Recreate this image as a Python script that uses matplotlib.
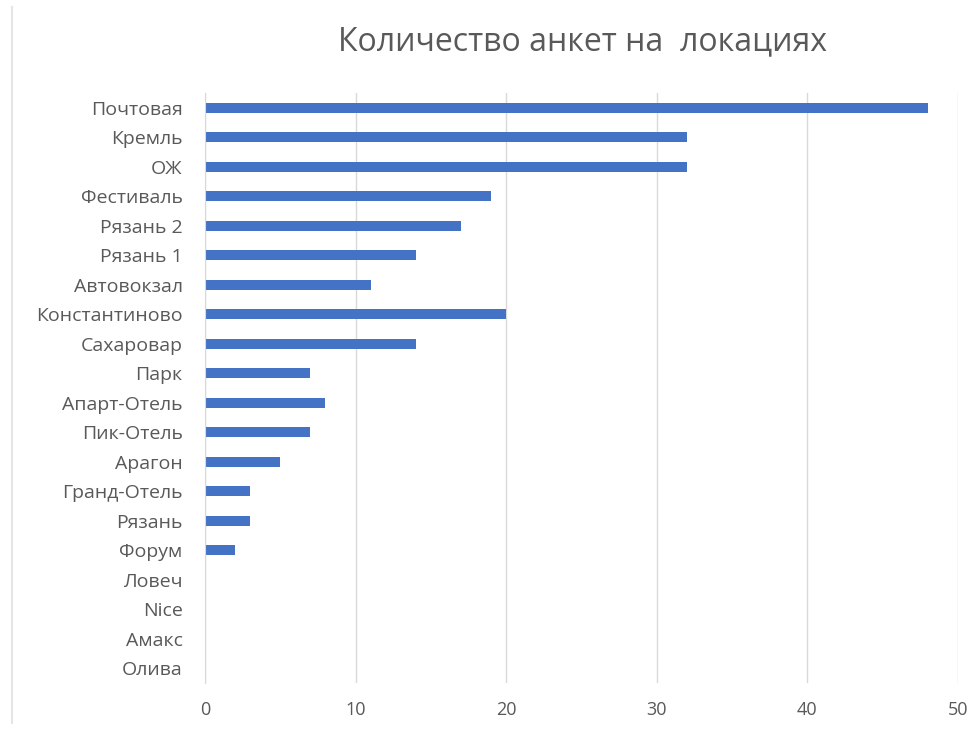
import matplotlib
matplotlib.use('Agg')
import matplotlib.pyplot as plt
from matplotlib.lines import Line2D

locations = ['Почтовая', 'Кремль', 'ОЖ', 'Фестиваль', 'Рязань 2', 'Рязань 1',
             'Автовокзал', 'Константиново', 'Сахаровар', 'Парк', 'Апарт-Отель',
             'Пик-Отель', 'Арагон', 'Гранд-Отель', 'Рязань', 'Форум', 'Ловеч',
             'Nice', 'Амакс', 'Олива']
counts = [48, 32, 32, 19, 17, 14, 11, 20, 14, 7, 8, 7, 5, 3, 3, 2, 0, 0, 0, 0]
xticks = [0, 10, 20, 30, 40, 50]

plt.rcParams['font.family'] = ['Open Sans', 'DejaVu Sans']
text_grey = '#595959'
grid_grey = '#d9d9d9'

fig = plt.figure(figsize=(9.7, 7.38), dpi=100)
ax = fig.add_axes([0.2113, 0.0745, 0.7763, 0.7995])

pos = list(range(len(locations)))
ax.barh(pos, counts, height=0.33, color='#4472C4', zorder=3)
ax.set_ylim(len(locations) - 0.5, -0.5)
ax.set_xlim(0, 50)
ax.set_xticks(xticks)
ax.set_yticks(pos)
ax.set_yticklabels(locations)
ax.tick_params(axis='both', length=0, colors=text_grey)
ax.tick_params(axis='x', pad=13, labelsize=13)
ax.tick_params(axis='y', pad=16, labelsize=14)
ax.xaxis.grid(True, color=grid_grey, linewidth=1)
for side in ('top', 'right', 'bottom'):
    ax.spines[side].set_visible(False)
ax.spines['left'].set_color(grid_grey)
ax.spines['left'].set_zorder(4)

fig.text(0.601, 0.944, 'Количество анкет на  локациях', ha='center', va='center',
         fontsize=23, color=text_grey)

# faint frame edge on the left
fig.add_artist(Line2D([0.0124, 0.0124], [0.02, 0.99], color='#e6e6e6', linewidth=1.5))

fig.savefig('out.png', dpi=100)
